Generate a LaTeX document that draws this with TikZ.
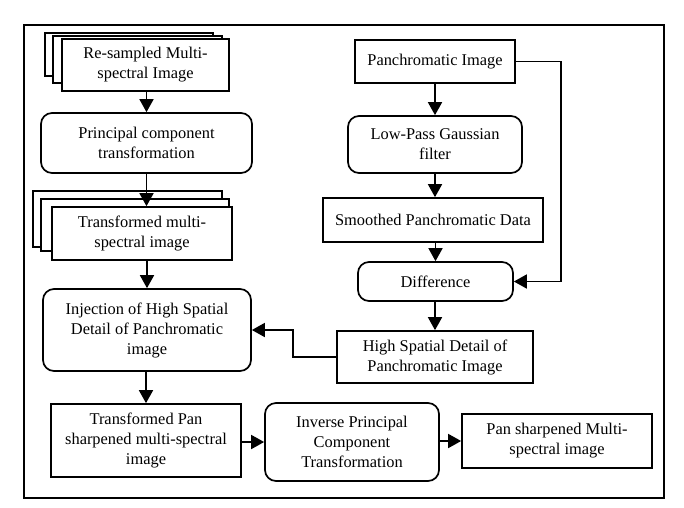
\documentclass[tikz,border=0pt]{standalone}
\usepackage{fontspec}
\setmainfont{Liberation Serif}
\usetikzlibrary{arrows.meta}
\begin{document}
\begin{tikzpicture}[x=1pt,y=-1pt,
  sheet/.style={draw, line width=1.7pt, fill=white},
  box/.style={draw, line width=1.7pt, fill=white, align=center, inner sep=0pt,
    font=\fontsize{16.4}{20}\selectfont},
  rbox/.style={box, rounded corners=11pt},
  arr/.style={line width=1.7pt, -{Triangle[width=14pt,length=13pt]}}]
\useasboundingbox (0,0) rectangle (684,507);
\draw[line width=1.8pt] (24,25) rectangle (664,498);

% stacked re-sampled image
\draw[sheet] (45,33) rectangle (213,76);
\draw[sheet] (53,36) rectangle (222,83);
\node[box, minimum width=167pt, minimum height=52pt] (rs) at (145.5,65) {Re-sampled Multi-\\spectral Image};

\node[rbox, minimum width=211pt, minimum height=60pt] (pct) at (146.5,143) {Principal component\\transformation};

% stacked transformed image
\draw[sheet] (33,191) rectangle (222,247);
\draw[sheet] (41,199) rectangle (229,251);
\node[box, minimum width=180pt, minimum height=53pt] (tm) at (142,233.5) {Transformed multi-\\spectral image};

\node[rbox, minimum width=208pt, minimum height=82pt] (inj) at (147,330) {Injection of High Spatial\\Detail of Panchromatic\\image};

\node[box, minimum width=190pt, minimum height=73pt] (tpan) at (146,440.5) {Transformed Pan\\sharpened multi-spectral\\image};

\node[rbox, minimum width=174pt, minimum height=78pt] (ipct) at (352,442) {Inverse Principal\\Component\\Transformation};

\node[box, minimum width=190pt, minimum height=54pt] (ps) at (557,441) {Pan sharpened Multi-\\spectral image};

\node[box, minimum width=160pt, minimum height=43pt] (pan) at (435,61.5) {Panchromatic Image};

\node[rbox, minimum width=174pt, minimum height=57pt] (lp) at (435,144.5) {Low-Pass Gaussian\\filter};

\node[box, minimum width=220pt, minimum height=44pt] (sm) at (433,220) {Smoothed Panchromatic Data};

\node[rbox, minimum width=155pt, minimum height=39pt] (diff) at (435.5,281.5) {Difference};

\node[box, minimum width=196pt, minimum height=52pt] (hs) at (435,357) {High Spatial Detail of\\Panchromatic Image};

\coordinate (loop) at (561,61.5);
\coordinate (bend) at (293,357);

% left column
\draw[arr] (pct.north |- rs.south) -- (pct.north);
\draw[arr] (pct.south) -- (pct.south |- tm.north);
\draw[arr] (inj.north |- tm.south) -- (inj.north);
\draw[arr] (tpan.north |- inj.south) -- (tpan.north);
\draw[arr] (tpan.east |- ipct.west) -- (ipct.west);
\draw[arr] (ipct.east |- ps.west) -- (ps.west);

% right column
\draw[arr] (pan.south) -- (pan.south |- lp.north);
\draw[arr] (lp.south) -- (lp.south |- sm.north);
\draw[arr] (diff.north |- sm.south) -- (diff.north);
\draw[arr] (hs.north |- diff.south) -- (hs.north);
\draw[arr] (pan.east) -- (loop) |- (diff.east);
\draw[arr] (hs.west) -- (bend) |- (inj.east);
\end{tikzpicture}
\end{document}
